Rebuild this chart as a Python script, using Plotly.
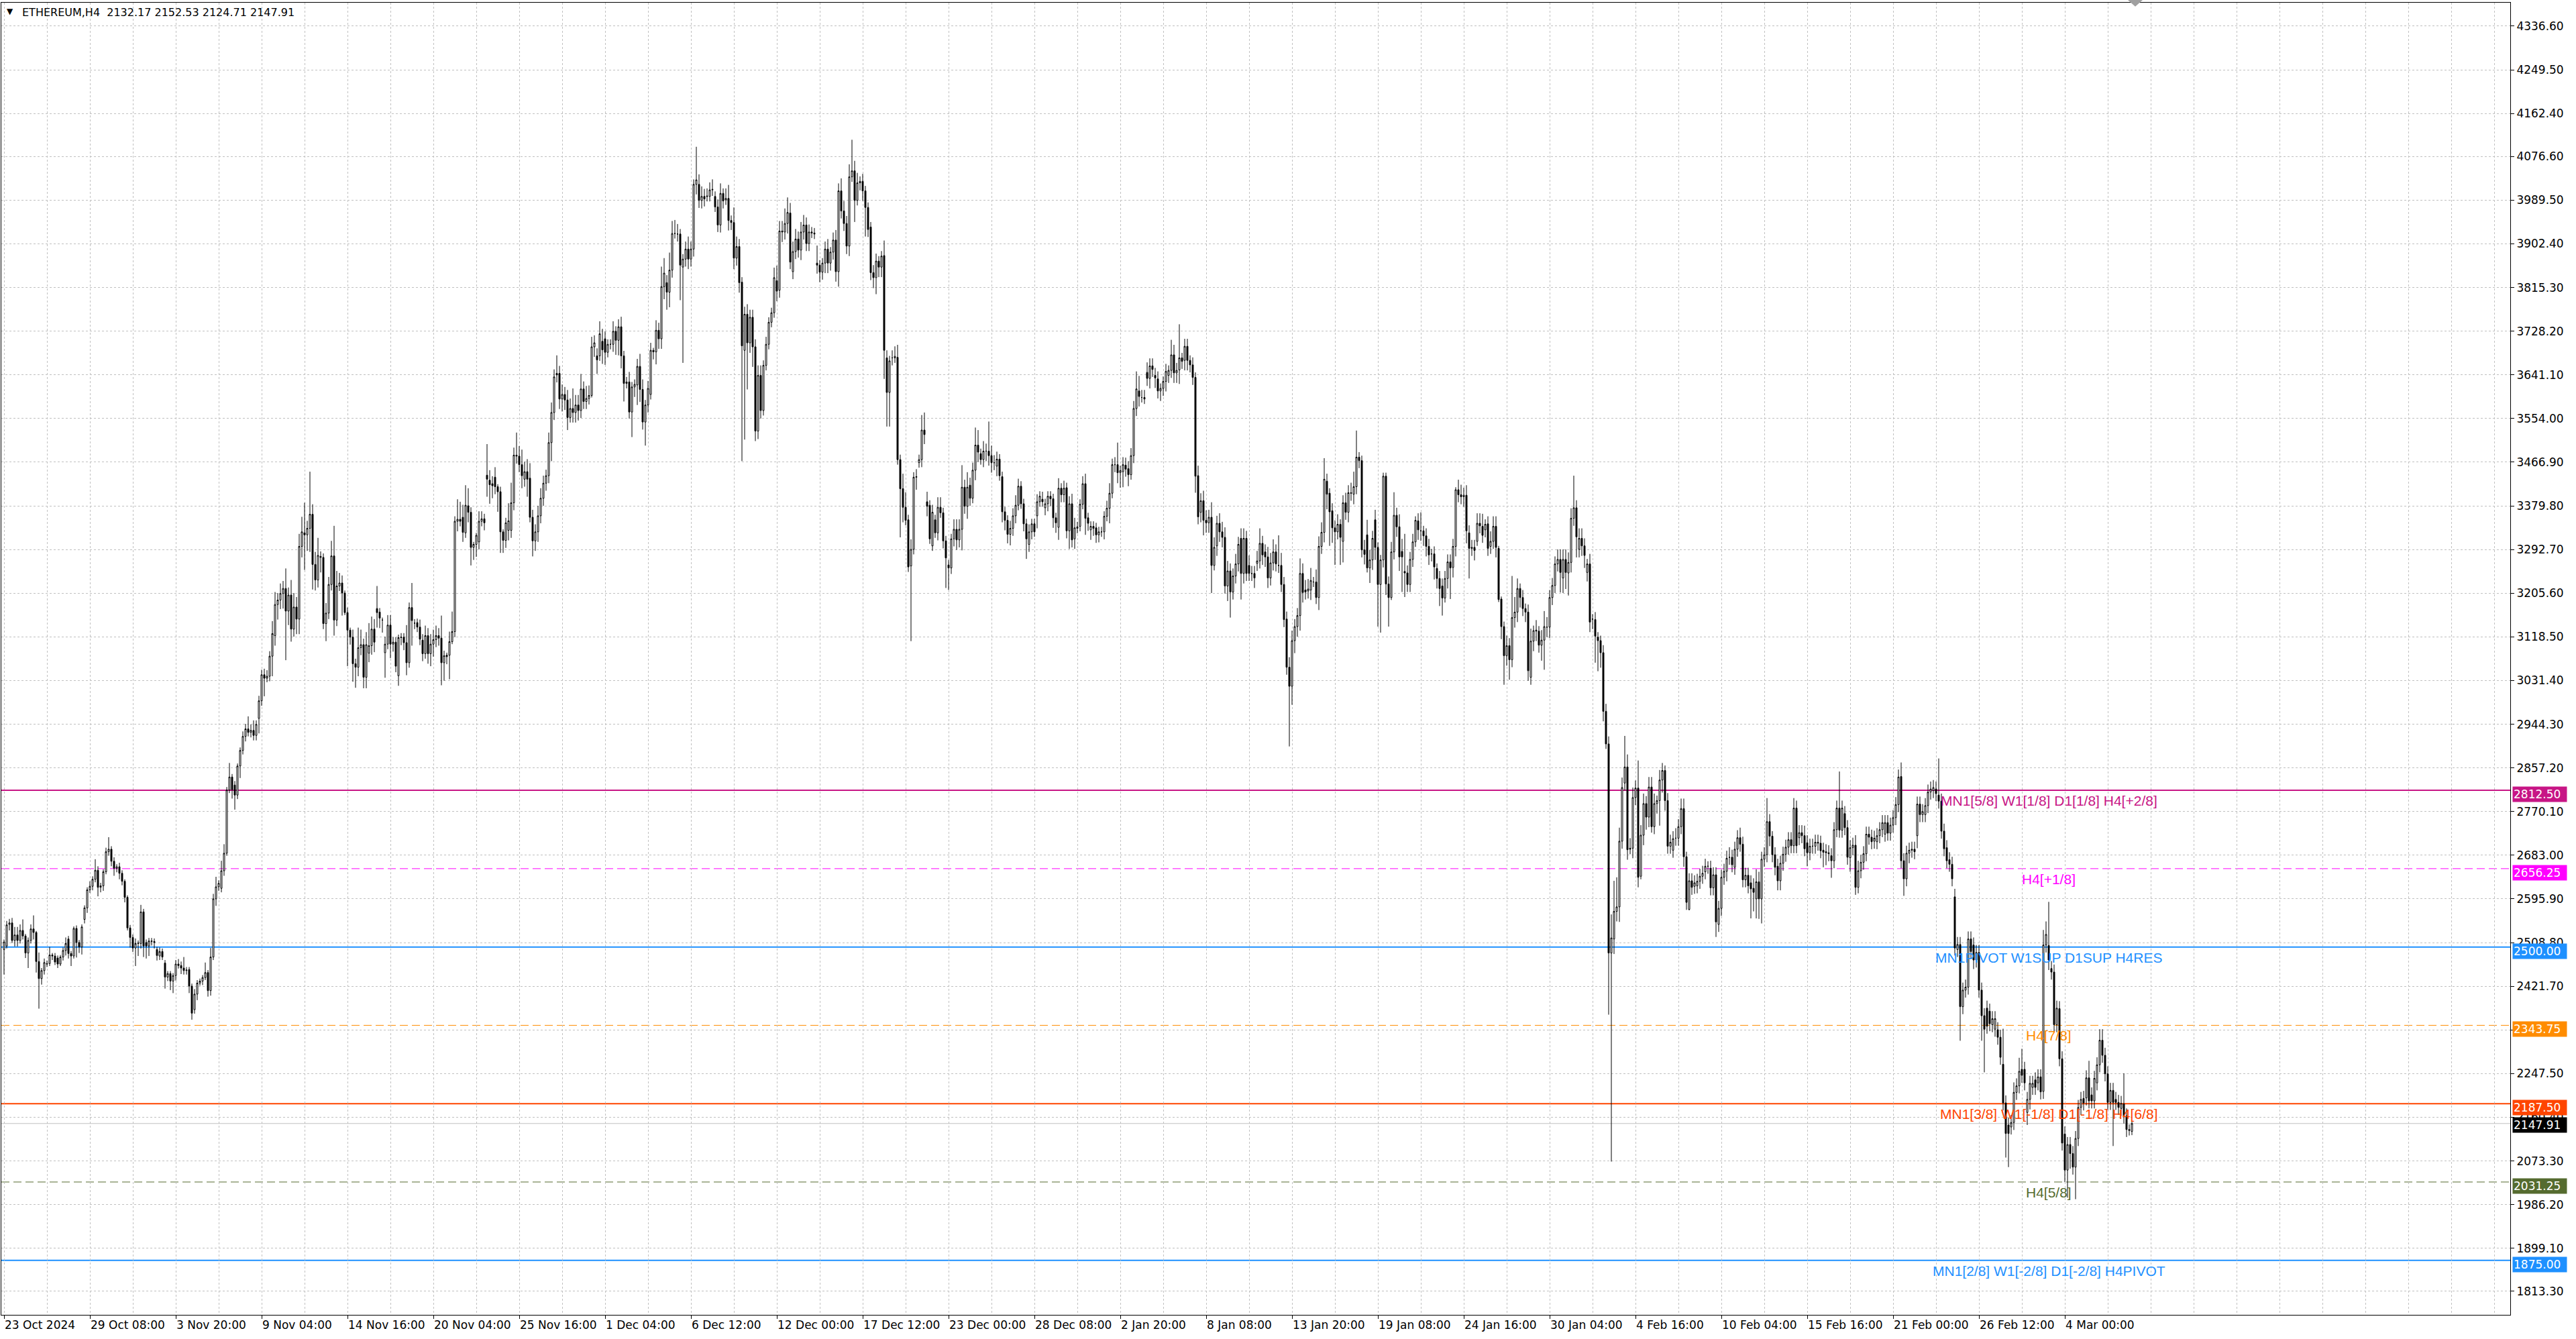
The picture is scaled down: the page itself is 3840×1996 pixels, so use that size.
import plotly.graph_objects as go

# ---------------- DATA (H4 bars, index 0 = 23 Oct 2024 00:00) ----------------
opens = [
2495,2502,2545,2548,2513,2524,2513,2533,2522,2488,
2513,2536,2529,2471,2437,2453,2467,2467,2484,2482,
2478,2466,2480,2493,2516,2487,2482,2537,2509,2500,
2555,2578,2614,2621,2635,2653,2619,2622,2650,2690,
2695,2671,2657,2660,2647,2631,2599,2538,2519,2498,
2507,2507,2570,2509,2502,2512,2511,2495,2482,2491,
2468,2440,2447,2432,2443,2466,2463,2458,2453,2455,
2422,2375,2406,2428,2432,2439,2449,2413,2480,2596,
2620,2617,2652,2687,2813,2839,2823,2803,2861,2892,
2920,2935,2928,2932,2922,2956,2991,3043,3036,3040,
3080,3121,3183,3192,3205,3215,3170,3202,3134,3178,
3154,3299,3326,3322,3335,3363,3263,3232,3279,3277,
3145,3166,3223,3280,3152,3220,3226,3206,3167,3132,
3118,3065,3058,3097,3103,3038,3086,3101,3134,3175,
3168,3152,3087,3104,3142,3104,3108,3041,3117,3118,
3107,3067,3177,3146,3147,3138,3112,3085,3121,3085,
3104,3113,3121,3116,3067,3082,3082,3109,3129,3349,
3353,3357,3326,3380,3367,3297,3303,3308,3349,3354,
3441,3431,3424,3437,3418,3408,3328,3311,3331,3331,
3386,3481,3479,3462,3433,3448,3435,3357,3310,3328,
3360,3395,3425,3440,3506,3566,3644,3644,3593,3602,
3591,3556,3574,3566,3581,3570,3613,3588,3594,3600,
3697,3679,3679,3708,3713,3686,3702,3702,3728,3710,
3737,3679,3624,3627,3567,3617,3621,3658,3612,3547,
3581,3602,3690,3687,3730,3713,3817,3825,3806,3850,
3923,3922,3922,3856,3872,3892,3872,3892,4021,4021,
3989,3997,3998,3997,4010,3997,3976,3940,4003,3990,
3993,3949,3945,3874,3897,3826,3690,3762,3705,3756,
3697,3529,3640,3570,3660,3702,3746,3765,3829,3810,
3928,3926,3943,3964,3847,3887,3912,3890,3926,3940,
3903,3926,3924,3864,3860,3846,3864,3892,3864,3886,
3910,3847,4008,3968,3943,3898,4036,4048,3989,4024,
4027,4008,3975,3936,3845,3835,3868,3856,3879,3675,
3606,3675,3675,3676,3472,3414,3377,3352,3260,3293,
3437,3466,3472,3531,3388,3381,3300,3352,3326,3377,
3366,3310,3262,3256,3314,3333,3312,3333,3417,3379,
3421,3395,3451,3501,3484,3472,3489,3489,3480,3466,
3459,3473,3438,3368,3351,3323,3335,3360,3381,3419,
3384,3344,3303,3328,3344,3360,3388,3393,3376,3384,
3399,3394,3356,3337,3415,3402,3416,3330,3384,3314,
3335,3339,3383,3424,3356,3332,3339,3336,3322,3328,
3328,3359,3375,3405,3462,3462,3446,3448,3461,3454,
3442,3480,3574,3609,3596,3596,3646,3634,3659,3640,
3633,3609,3614,3628,3640,3650,3681,3645,3651,3675,
3670,3698,3670,3661,3636,3440,3367,3390,3351,3346,
3357,3261,3300,3345,3328,3317,3220,3250,3208,3240,
3264,3315,3245,3315,3261,3245,3245,3265,3270,3305,
3288,3278,3236,3266,3288,3261,3261,3223,3154,3058,
3020,3111,3139,3161,3245,3212,3210,3212,3228,3228,
3197,3299,3327,3429,3405,3370,3336,3328,3343,3309,
3386,3367,3406,3403,3418,3477,3470,3292,3322,3256,
3272,3352,3297,3223,3272,3439,3224,3197,3288,3361,
3338,3289,3249,3246,3223,3273,3308,3350,3330,3330,
3320,3299,3284,3284,3255,3235,3220,3196,3235,3268,
3257,3299,3412,3402,3398,3401,3326,3295,3297,3309,
3345,3339,3332,3344,3299,3309,3339,3295,3194,3139,
3081,3101,3073,3157,3168,3215,3197,3175,3168,3038,
3110,3132,3130,3102,3112,3138,3138,3197,3221,3264,
3273,3236,3273,3246,3267,3355,3376,3293,3315,3300,
3247,3264,3154,3153,3118,3111,3087,2970,2905,2488,
2516,2571,2580,2711,2827,2859,2697,2697,2798,2817,
2641,2723,2786,2759,2819,2740,2786,2792,2833,2852,
2792,2701,2693,2717,2717,2740,2776,2680,2575,2632,
2621,2622,2631,2641,2650,2661,2657,2618,2644,2545,
2577,2639,2651,2679,2679,2659,2695,2718,2705,2634,
2643,2628,2617,2596,2630,2596,2675,2684,2750,2721,
2684,2661,2632,2667,2685,2699,2714,2702,2777,2718,
2728,2722,2708,2688,2701,2701,2709,2707,2693,2690,
2688,2682,2672,2734,2777,2733,2766,2738,2678,2698,
2703,2619,2652,2669,2686,2725,2719,2711,2710,2722,
2734,2725,2748,2727,2743,2758,2784,2840,2672,2636,
2687,2693,2695,2722,2785,2764,2764,2782,2809,2812,
2815,2803,2791,2731,2698,2674,2665,2600,2495,2505,
2381,2414,2420,2516,2504,2474,2489,2414,2363,2378,
2372,2345,2336,2335,2320,2266,2189,2145,2141,2150,
2210,2223,2256,2256,2170,2196,2220,2235,2229,2241,
2212,2504,2503,2457,2450,2345,2377,2277,2127,2055,
2106,2088,2061,2118,2180,2198,2199,2239,2205,2193,
2229,2265,2314,2284,2247,2190,2214,2196,2190,2178,
2187,2163,2136,2132.17,
]

closes = [
2510,2544,2548,2513,2524,2513,2533,2522,2488,2513,
2536,2529,2471,2437,2453,2469,2466,2484,2482,2470,
2466,2480,2493,2507,2487,2482,2537,2509,2500,2540,
2578,2614,2621,2635,2653,2619,2622,2650,2690,2695,
2671,2657,2660,2647,2631,2599,2538,2519,2498,2507,
2508,2570,2502,2502,2512,2511,2509,2483,2491,2480,
2440,2447,2432,2443,2466,2463,2458,2453,2454,2422,
2368,2406,2428,2432,2439,2449,2413,2480,2596,2620,
2627,2652,2687,2813,2839,2814,2803,2861,2892,2920,
2935,2928,2932,2922,2944,2991,3043,3036,3040,3080,
3125,3183,3192,3205,3215,3170,3202,3134,3178,3154,
3299,3328,3322,3335,3363,3263,3232,3281,3277,3145,
3166,3223,3280,3152,3220,3226,3206,3167,3132,3118,
3065,3058,3097,3103,3038,3103,3101,3134,3108,3167,
3156,3152,3104,3142,3104,3108,3060,3117,3118,3107,
3067,3177,3151,3146,3138,3114,3085,3121,3085,3104,
3113,3121,3116,3067,3081,3079,3109,3129,3349,3353,
3349,3327,3381,3367,3297,3303,3321,3349,3354,3346,
3433,3422,3420,3418,3408,3328,3311,3346,3350,3386,
3481,3479,3462,3440,3448,3433,3357,3310,3328,3360,
3395,3425,3440,3506,3566,3637,3641,3593,3602,3591,
3556,3574,3566,3581,3570,3613,3588,3594,3600,3697,
3705,3671,3723,3691,3686,3702,3702,3728,3710,3737,
3679,3624,3627,3567,3617,3622,3658,3612,3547,3581,
3614,3690,3687,3730,3713,3817,3844,3806,3850,3923,
3923,3922,3860,3872,3892,3872,3892,4021,4030,3989,
3997,3992,3997,4010,4011,3976,3940,4003,3988,3993,
3949,3945,3874,3897,3825,3699,3762,3705,3756,3697,
3529,3640,3570,3660,3702,3746,3765,3835,3808,3928,
3926,3943,3965,3866,3887,3912,3890,3926,3940,3903,
3926,3924,3922,3860,3846,3864,3892,3864,3886,3910,
3847,4008,3968,3943,3898,4036,4048,3989,4024,4027,
4008,3975,3931,3845,3835,3868,3856,3878,3690,3606,
3669,3675,3678,3472,3414,3377,3351,3258,3293,3437,
3438,3472,3531,3522,3379,3314,3367,3326,3377,3366,
3310,3276,3256,3314,3333,3312,3333,3417,3379,3417,
3395,3451,3501,3487,3472,3489,3489,3480,3466,3466,
3473,3440,3368,3351,3323,3335,3360,3381,3419,3384,
3344,3314,3328,3344,3328,3388,3399,3388,3384,3399,
3394,3356,3346,3415,3402,3415,3330,3384,3312,3336,
3338,3383,3424,3355,3345,3339,3335,3322,3328,3328,
3359,3375,3405,3462,3462,3446,3450,3462,3453,3442,
3480,3574,3613,3598,3596,3593,3634,3659,3652,3635,
3609,3614,3628,3648,3650,3681,3645,3650,3675,3668,
3698,3670,3661,3636,3439,3358,3390,3351,3346,3357,
3261,3297,3345,3328,3317,3220,3250,3208,3240,3264,
3303,3245,3315,3245,3245,3245,3236,3270,3305,3282,
3278,3236,3266,3288,3264,3261,3223,3153,3058,3020,
3111,3139,3161,3245,3207,3208,3214,3231,3228,3197,
3299,3327,3433,3403,3368,3336,3328,3343,3317,3386,
3367,3406,3405,3418,3477,3470,3292,3283,3256,3272,
3315,3297,3223,3272,3439,3224,3197,3288,3361,3338,
3278,3278,3246,3223,3273,3308,3351,3332,3330,3320,
3299,3282,3284,3258,3235,3215,3196,3235,3268,3256,
3299,3412,3402,3398,3401,3330,3295,3297,3291,3345,
3340,3321,3343,3295,3309,3339,3297,3193,3139,3081,
3101,3073,3157,3168,3215,3197,3175,3168,3051,3110,
3131,3130,3102,3112,3139,3138,3197,3221,3264,3273,
3247,3273,3247,3267,3355,3376,3318,3315,3300,3281,
3264,3148,3154,3120,3111,3087,2970,2905,2488,2518,
2571,2580,2711,2818,2859,2694,2695,2798,2817,2639,
2723,2786,2759,2819,2740,2786,2792,2833,2852,2792,
2701,2709,2716,2717,2740,2776,2680,2589,2632,2619,
2628,2631,2641,2647,2661,2661,2618,2644,2550,2577,
2639,2651,2677,2679,2664,2695,2718,2705,2634,2643,
2622,2616,2609,2630,2596,2675,2684,2750,2721,2684,
2659,2632,2667,2685,2699,2714,2702,2777,2702,2728,
2722,2696,2688,2701,2701,2709,2707,2692,2689,2688,
2686,2672,2734,2777,2733,2777,2738,2679,2698,2703,
2619,2652,2669,2686,2725,2719,2710,2717,2722,2734,
2748,2748,2727,2743,2758,2784,2839,2672,2636,2687,
2693,2695,2690,2785,2764,2770,2782,2809,2815,2818,
2806,2791,2731,2696,2672,2665,2636,2498,2505,2381,
2414,2420,2516,2491,2474,2489,2414,2363,2336,2342,
2347,2357,2357,2320,2280,2189,2128,2128,2150,2210,
2223,2252,2244,2229,2196,2228,2228,2220,2241,2211,
2504,2525,2474,2450,2345,2378,2277,2109,2055,2106,
2088,2061,2118,2180,2196,2189,2239,2193,2193,2238,
2265,2314,2284,2247,2190,2214,2190,2190,2180,2188,
2163,2136,2134,2147.91,
]

# wick length above the body / below the body for each bar
upper_wicks = [
5,8,8,10,16,16,12,22,4,6,
9,27,3,18,5,8,6,16,4,6,
5,4,6,12,6,5,4,6,5,5,
5,5,10,6,22,8,6,5,8,24,
6,8,5,8,6,4,4,6,6,10,
5,14,6,6,6,6,6,5,8,6,
6,5,5,5,8,10,8,22,6,5,
5,10,6,5,5,20,5,18,10,20,
6,20,18,6,28,6,8,5,6,10,
10,25,12,20,8,10,10,12,12,10,
25,25,14,20,15,40,15,30,28,20,
25,30,60,15,85,20,25,35,10,8,
20,15,30,60,30,20,15,5,10,5,
15,10,40,30,12,25,45,25,20,45,
8,5,15,20,20,10,10,6,8,8,
35,10,49,8,8,15,12,20,15,20,
20,20,15,45,10,5,20,40,10,40,
35,25,40,35,10,5,5,20,15,10,
62,20,15,20,5,10,5,10,35,40,
15,45,20,30,20,25,30,15,15,20,
20,15,12,20,20,15,36,15,20,15,
20,20,40,20,20,30,15,25,20,20,
15,15,25,25,15,10,10,20,10,15,
20,10,10,20,10,10,15,25,20,10,
15,15,5,20,15,40,30,15,35,25,
27,20,10,10,15,25,15,10,66,20,
20,15,15,15,20,10,15,20,10,20,
27,10,30,20,15,10,15,20,15,15,
15,20,20,10,15,10,10,20,30,20,
20,30,30,20,20,20,15,20,20,15,
15,10,10,35,10,10,15,20,10,15,
20,15,25,20,15,25,62,20,20,10,
15,10,10,10,15,15,10,10,30,15,
10,15,20,25,10,30,30,10,20,10,
15,10,30,35,20,10,15,10,20,20,
10,10,10,10,20,20,20,44,15,30,
15,15,35,30,10,20,15,59,20,15,
15,10,10,10,10,15,15,20,15,10,
10,10,15,10,10,15,10,15,10,10,
10,10,10,20,10,15,10,15,20,20,
10,10,15,20,10,10,10,10,10,10,
10,15,20,12,15,44,10,15,15,15,
15,15,35,30,15,15,20,15,15,15,
15,10,10,15,10,30,20,15,67,10,
15,15,10,15,10,20,15,20,20,15,
30,20,15,20,20,20,20,15,15,20,
15,20,20,15,20,15,15,20,30,15,
15,20,20,25,15,60,25,15,15,20,
20,15,15,30,20,20,20,25,10,25,
20,20,42,15,10,15,15,20,10,15,
20,15,20,30,53,10,10,20,30,20,
15,20,10,10,7,7,15,20,46,15,
25,25,75,15,15,16,8,15,37,10,
15,15,10,15,10,15,15,15,15,15,
15,5,20,20,15,20,15,15,15,20,
20,25,10,15,20,20,20,5,5,10,
20,15,83,30,20,10,15,10,15,25,
10,20,10,20,31,20,15,15,15,20,
20,20,20,20,20,64,15,20,20,15,
10,20,10,15,10,10,15,15,15,47,
61,59,27,20,62,25,20,20,15,55,
20,20,15,20,20,20,10,20,15,10,
15,15,15,20,15,20,20,10,15,15,
15,15,15,15,15,10,15,15,15,15,
15,15,15,20,15,15,15,20,15,15,
15,15,20,25,20,15,15,47,15,10,
15,15,15,15,15,15,15,20,15,15,
15,20,15,15,15,15,15,15,15,15,
15,15,15,15,73,15,15,15,15,15,
20,20,15,15,15,15,15,15,15,15,
15,15,15,15,15,15,15,28,15,15,
15,15,15,15,15,15,15,15,15,15,
15,73,15,15,15,15,15,16,15,15,
15,15,15,15,15,15,15,15,15,15,
15,15,15,15,15,71,15,15,15,20,
15,27,41,15,15,15,15,15,15,15,
30,26,87,15,15,15,15,15,15,15,
15,15,15,15,15,15,15,34,15,15,
15,22,22,15,15,15,15,15,15,15,
61,15,10,4.62,
]

lower_wicks = [
50,5,12,5,12,12,6,7,10,30,
6,14,22,60,12,8,6,5,8,6,
8,4,7,10,10,20,5,30,12,15,
8,10,6,8,6,18,10,10,5,8,
10,15,8,12,8,10,5,20,8,36,
25,10,22,25,20,8,12,10,8,6,
23,8,18,24,10,6,12,8,8,14,
13,8,12,5,8,5,12,10,6,14,
8,8,10,5,6,18,29,8,24,8,
10,8,10,10,10,30,10,36,8,10,
40,20,30,18,30,98,28,25,15,30,
30,22,70,32,47,50,21,15,30,11,
35,12,12,31,12,10,45,5,72,15,
36,41,18,15,22,22,18,18,20,30,
20,25,50,10,28,15,12,20,15,15,
25,10,50,12,10,12,15,10,20,25,
25,15,15,45,36,15,48,5,11,20,
10,19,10,20,36,25,25,15,10,15,
35,38,25,15,40,42,25,15,20,15,
15,15,15,25,15,35,10,31,20,20,
15,15,15,15,37,15,15,20,25,20,
25,10,20,20,20,15,15,15,12,4,
20,28,10,28,25,10,10,15,29,30,
25,36,10,13,50,20,40,25,15,47,
15,10,15,25,20,20,25,35,30,15,
10,15,70,191,15,20,15,15,20,15,
16,15,10,10,12,10,14,15,15,10,
20,15,22,15,20,230,178,93,20,40,
20,16,16,10,10,10,10,10,20,15,
20,15,20,14,15,15,15,20,15,15,
15,10,10,17,20,15,20,20,15,15,
20,30,15,15,16,20,10,43,10,15,
20,58,15,15,21,33,20,20,57,68,
68,15,10,10,97,30,10,10,150,10,
25,10,15,19,20,10,10,10,15,10,
15,60,44,12,15,20,15,42,15,25,
15,10,20,20,10,15,20,20,20,15,
20,10,21,20,18,22,15,15,10,10,
15,40,15,15,10,25,10,10,15,15,
15,20,20,25,15,15,15,36,15,20,
10,10,10,33,15,20,15,16,15,10,
15,10,30,10,15,21,30,31,15,23,
10,15,15,20,10,10,15,20,15,20,
15,20,15,20,15,15,20,20,28,15,
20,20,15,15,33,15,20,30,20,20,
55,10,20,20,20,15,30,51,15,15,
15,52,20,15,15,15,20,15,15,20,
20,20,15,15,15,15,15,15,15,120,
37,25,20,30,20,15,15,20,10,13,
25,15,20,30,68,30,66,15,55,42,
15,20,15,20,15,15,15,20,9,30,
20,25,84,96,15,22,58,5,15,20,
28,70,48,15,15,15,10,20,20,20,
20,20,15,25,20,35,35,9,20,62,
20,20,15,15,20,25,60,15,20,9,
15,15,15,15,15,15,20,5,25,58,
20,40,15,20,20,20,15,20,20,15,
20,20,15,31,59,20,22,15,15,15,
40,30,33,45,20,15,41,16,20,25,
18,20,20,53,61,30,20,10,123,416,
30,20,30,15,15,20,10,20,15,20,
6,20,25,20,12,15,20,50,25,20,
15,15,15,15,15,15,20,15,2,15,
15,15,15,15,15,15,15,15,30,15,
15,15,20,15,15,15,15,15,15,15,
15,59,38,39,40,49,15,15,20,15,
16,19,19,15,15,15,15,15,15,15,
15,15,27,15,15,15,15,15,30,25,
15,34,15,15,15,15,15,15,28,15,
15,12,15,15,15,15,15,15,15,15,
15,15,15,15,15,15,15,15,34,15,
20,15,15,25,15,15,15,15,15,15,
15,15,15,15,15,15,15,15,15,68,
15,15,15,15,18,15,15,50,86,15,
15,15,15,15,15,15,48,67,15,15,
15,15,15,15,25,20,15,15,15,15,
15,15,20,15,15,15,15,15,24,55,
30,15,64,15,15,15,15,15,15,15,
15,15,15,15,15,15,87,15,15,15,
15,15,10,7.46,
]

# time-axis labels (one every 32 H4 bars)
time_labels = ["23 Oct 2024", "29 Oct 08:00", "3 Nov 20:00", "9 Nov 04:00", "14 Nov 16:00",
               "20 Nov 04:00", "25 Nov 16:00", "1 Dec 04:00", "6 Dec 12:00", "12 Dec 00:00",
               "17 Dec 12:00", "23 Dec 00:00", "28 Dec 08:00", "2 Jan 20:00", "8 Jan 08:00",
               "13 Jan 20:00", "19 Jan 08:00", "24 Jan 16:00", "30 Jan 04:00", "4 Feb 16:00",
               "10 Feb 04:00", "15 Feb 16:00", "21 Feb 00:00", "26 Feb 12:00", "4 Mar 00:00"]
label_step = 32

# price-axis labels
price_ticks = [4336.60, 4249.50, 4162.40, 4076.60, 3989.50, 3902.40, 3815.30, 3728.20, 3641.10,
               3554.00, 3466.90, 3379.80, 3292.70, 3205.60, 3118.50, 3031.40, 2944.30, 2857.20,
               2770.10, 2683.00, 2595.90, 2508.80, 2421.70, 2334.60, 2247.50, 2160.40, 2073.30,
               1986.20, 1899.10, 1813.30]

# Murrey-math / pivot levels
level_prices = [2812.50, 2656.25, 2500.00, 2343.75, 2187.50, 2031.25, 1875.00]
level_labels = ["MN1[5/8] W1[1/8] D1[1/8] H4[+2/8]", "H4[+1/8]", "MN1PIVOT W1SUP D1SUP H4RES",
                "H4[7/8]", "MN1[3/8] W1[-1/8] D1[-1/8] H4[6/8]", "H4[5/8]",
                "MN1[2/8] W1[-2/8] D1[-2/8] H4PIVOT"]
level_colors = ["#C71585", "#FF00FF", "#1E90FF", "#FF8C00", "#FF4500", "#556B2F", "#1E90FF"]
level_dashes = ["solid", "12px,6px", "solid", "12px,6px", "solid", "12px,6px", "solid"]
level_widths = [2, 1, 2, 1, 2, 1, 2]

symbol_title = "ETHEREUM,H4\u00a0\u00a02132.17 2152.53 2124.71 2147.91"
last_price = 2147.91

# ---------------- FIGURE ----------------
n = min(len(opens), len(closes), len(upper_wicks), len(lower_wicks))
bars = list(range(n))
o = opens[:n]
c = closes[:n]
highs = [max(a, b) + u for a, b, u in zip(o, c, upper_wicks[:n])]
lows = [min(a, b) - d for a, b, d in zip(o, c, lower_wicks[:n])]

W, H = 3840, 1996
ML, MR, MT, MB = 2, 98, 4, 36
AX_FONT = "DejaVu Sans"
TXT_FONT = "Liberation Sans, Arial"

fig = go.Figure()
fig.add_trace(go.Candlestick(
    x=bars, open=o, high=highs, low=lows, close=c,
    increasing=dict(line=dict(color="black", width=1), fillcolor="white"),
    decreasing=dict(line=dict(color="black", width=1), fillcolor="black"),
    whiskerwidth=0, showlegend=False, hoverinfo="skip",
))

shapes = []
annotations = []

# level lines, text labels and price boxes
for p, lab, col, dsh, lw in zip(level_prices, level_labels, level_colors, level_dashes, level_widths):
    shapes.append(dict(type="line", xref="paper", x0=0, x1=1, yref="y", y0=p, y1=p,
                       line=dict(color=col, width=lw, dash=dsh), layer="below"))
    annotations.append(dict(xref="x", x=762, yref="y", y=p, text=lab, showarrow=False,
                            xanchor="center", yanchor="top", yshift=-2,
                            font=dict(family=TXT_FONT, size=21, color=col)))
    annotations.append(dict(xref="paper", x=1, xshift=3, yref="y", y=p, yshift=-6, text=f"{p:.2f}",
                            showarrow=False, xanchor="left", yanchor="middle",
                            bgcolor=col, width=78, height=20, borderpad=1, align="left",
                            font=dict(family=AX_FONT, size=17, color="white")))

# current price line and box
shapes.append(dict(type="line", xref="paper", x0=0, x1=1, yref="y", y0=last_price, y1=last_price,
                   line=dict(color="#C0C0C0", width=1), layer="below"))
annotations.append(dict(xref="paper", x=1, xshift=3, yref="y", y=last_price, yshift=-2,
                        text=f"{last_price:.2f}",
                        showarrow=False, xanchor="left", yanchor="middle",
                        bgcolor="black", width=78, height=20, borderpad=1, align="left",
                        font=dict(family=AX_FONT, size=17, color="white")))

# time labels (left-aligned at their tick, like the terminal)
tick_bars = [k * label_step for k in range(len(time_labels))]
for tb, tl in zip(tick_bars, time_labels):
    annotations.append(dict(xref="x", x=tb, yref="paper", y=0, yshift=-3, xshift=-1,
                            text=tl, showarrow=False, xanchor="left", yanchor="top",
                            font=dict(family=AX_FONT, size=17, color="black")))

# header
annotations.append(dict(xref="paper", x=0, xshift=6, yref="paper", y=1, yshift=-4,
                        text="\u25BC", showarrow=False, xanchor="left", yanchor="top",
                        font=dict(family=AX_FONT, size=12, color="black")))
annotations.append(dict(xref="paper", x=0, xshift=29, yref="paper", y=1, yshift=-3,
                        text=symbol_title, showarrow=False, xanchor="left", yanchor="top",
                        font=dict(family=AX_FONT, size=16, color="black")))

# chart-shift marker at the top
shapes.append(dict(type="path", xref="x", yref="paper",
                   path="M 791.5 1.002 L 797 1.002 L 794.25 0.997 Z",
                   fillcolor="#A0A0A0", line=dict(width=0)))

grid_col = "#C0C0C0"
fig.update_layout(
    width=W, height=H, autosize=False,
    margin=dict(l=ML, r=MR, t=MT, b=MB, pad=0),
    paper_bgcolor="white", plot_bgcolor="white",
    shapes=shapes, annotations=annotations, showlegend=False,
    hovermode=False,
    xaxis=dict(
        range=[-1, 934], rangeslider=dict(visible=False),
        tickmode="array", tickvals=tick_bars, showticklabels=False,
        ticks="outside", ticklen=5, tickcolor="black", tickwidth=1,
        showgrid=True, gridcolor=grid_col, griddash="dot", gridwidth=1,
        minor=dict(tickmode="linear", tick0=0, dtick=16, showgrid=True,
                   gridcolor=grid_col, griddash="dot", gridwidth=1, ticks=""),
        showline=True, linecolor="black", linewidth=1, mirror=True,
        zeroline=False, automargin=False, fixedrange=True,
    ),
    yaxis=dict(
        range=[1766.3, 4383.4], side="right",
        tickmode="array", tickvals=price_ticks, ticktext=[f"{t:.2f}" for t in price_ticks],
        ticks="outside", ticklen=5, tickcolor="black", tickwidth=1,
        tickfont=dict(family=AX_FONT, size=17, color="black"),
        showgrid=True, gridcolor=grid_col, griddash="dot", gridwidth=1,
        showline=True, linecolor="black", linewidth=1, mirror=True,
        zeroline=False, automargin=False, fixedrange=True,
    ),
)

fig.write_html("out.html", config={"displayModeBar": False},
               post_script="document.body.style.margin='0';document.body.style.overflow='hidden';")
